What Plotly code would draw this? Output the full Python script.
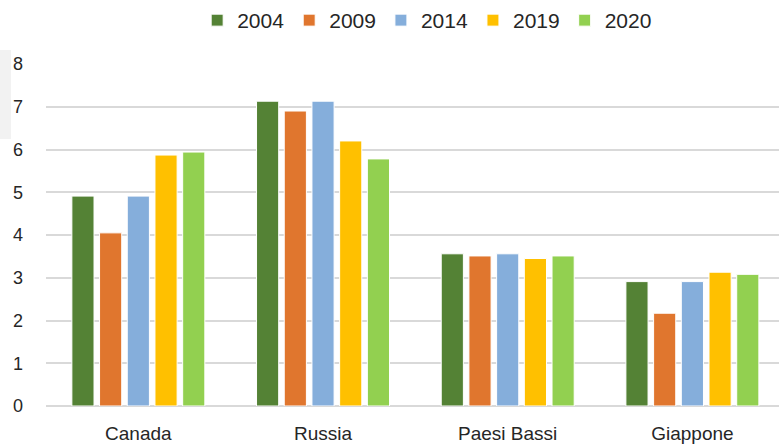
import plotly.graph_objects as go

countries = ['Canada', 'Russia', 'Paesi Bassi', 'Giappone']
years = ['2004', '2009', '2014', '2019', '2020']
v2004 = [4.91, 7.13, 3.56, 2.91]
v2009 = [4.05, 6.90, 3.51, 2.17]
v2014 = [4.91, 7.13, 3.56, 2.91]
v2019 = [5.87, 6.20, 3.45, 3.13]
v2020 = [5.94, 5.78, 3.51, 3.08]
colors = ['#548235', '#E0762E', '#85AEDB', '#FFC000', '#92D050']

fig = go.Figure()
for year, vals, col in zip(years, [v2004, v2009, v2014, v2019, v2020], colors):
    fig.add_trace(go.Bar(x=countries, y=vals, name=year, marker_color=col,
                         marker_line=dict(color='white', width=1)))

fig.update_layout(
    width=779, height=444,
    barmode='group', bargap=0.25, bargroupgap=0.2,
    plot_bgcolor='white', paper_bgcolor='white',
    margin=dict(l=46, r=0, t=64, b=38, autoexpand=False),
    font=dict(family='Liberation Sans, Arial, sans-serif', color='#262626', size=18),
    legend=dict(orientation='h', x=0.52, xanchor='center', y=1.0, yanchor='top',
                yref='container', font=dict(size=21), itemwidth=30, traceorder='normal'),
    showlegend=True,
)
fig.update_yaxes(range=[0, 8], dtick=1, showgrid=True, gridcolor='#D9D9D9', gridwidth=1.5,
                 zeroline=True, zerolinecolor='#D9D9D9', zerolinewidth=1.5,
                 ticklabelstandoff=22, automargin=False)
fig.update_xaxes(range=[-0.5, 3.469], showline=False, ticks='', ticklabelstandoff=14,
                 tickfont=dict(size=19), automargin=False)

# faint grey box in the top-left corner of the original picture
fig.add_shape(type='rect', xref='paper', yref='paper', x0=-46/733, x1=-35/733,
              y0=(406-139)/342, y1=(406-50)/342, fillcolor='#F2F2F2', line_width=0,
              layer='below')

# drop the browser's default 8px body margin so the figure sits at (0, 0)
fig.write_html('out.html', config={'displayModeBar': False},
               post_script="document.body.style.margin='0';")
